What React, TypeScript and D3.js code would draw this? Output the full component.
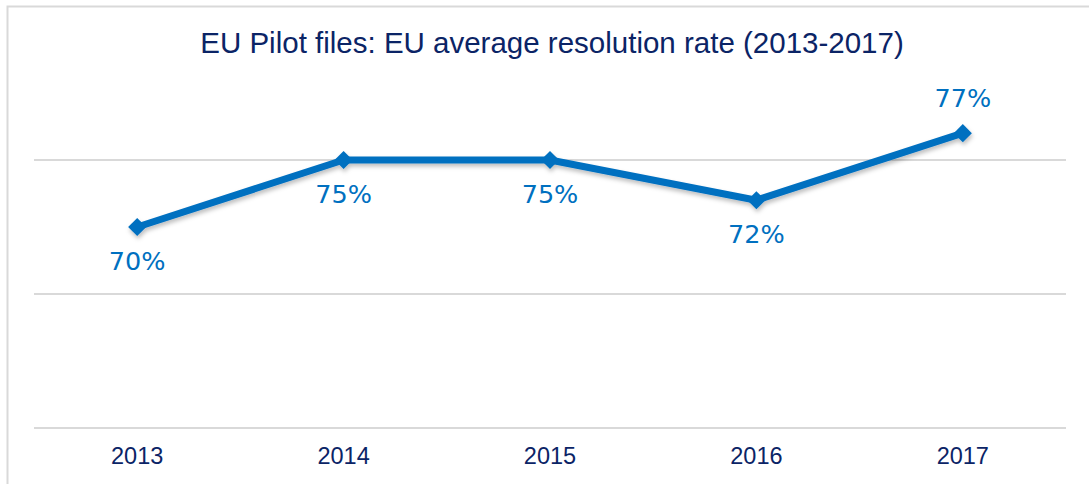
import React from "react";
import * as d3 from "d3";

const years = ["2013", "2014", "2015", "2016", "2017"];
const rates = [70, 75, 75, 72, 77];
const labelPos = ["below", "below", "below", "below", "above"];
const gridValues = [55, 65, 75];
const title = "EU Pilot files: EU average resolution rate (2013-2017)";

const W = 1089;
const H = 484;
const margin = { left: 34, right: 23, top: 24, bottom: 56 };

export default function App() {
  const x = d3
    .scaleBand<string>()
    .domain(years)
    .range([margin.left, W - margin.right]);
  const y = d3.scaleLinear().domain([55, 85]).range([H - margin.bottom, H - margin.bottom - 402]);
  const cx = (d: string) => (x(d) as number) + x.bandwidth() / 2;
  const pts: [number, number][] = years.map((d, i) => [cx(d), y(rates[i])]);
  const line = d3.line()(pts) as string;
  const diamond = d3.symbol().type(d3.symbolDiamond2).size(210)() as string;
  const blue = "#0070c0";
  const navy = "#0b2466";
  return (
    <svg
      width={W}
      height={H}
      style={{ position: "absolute", left: 0, top: 0 }}
    >
      <defs>
        <filter id="sh" x="-10%" y="-20%" width="120%" height="150%">
          <feDropShadow dx="1" dy="3" stdDeviation="2" floodColor="#000" floodOpacity="0.25" />
        </filter>
      </defs>
      <rect x={0} y={0} width={W} height={H} fill="#fff" />
      <path d={`M7.5,${H} V6.5 H${W}`} fill="none" stroke="#d9d9d9" strokeWidth={2} />
      <text
        x={552}
        y={53}
        textAnchor="middle"
        fontFamily="Liberation Sans, Arial, sans-serif"
        fontSize={29.5}
        fill={navy}
      >
        {title}
      </text>
      {gridValues.map((v) => (
        <line
          key={v}
          x1={margin.left}
          x2={W - margin.right}
          y1={y(v)}
          y2={y(v)}
          stroke="#d9d9d9"
          strokeWidth={2}
        />
      ))}
      {years.map((d) => (
        <text
          key={d}
          x={cx(d)}
          y={464}
          textAnchor="middle"
          fontFamily="Liberation Sans, Arial, sans-serif"
          fontSize={23.5}
          fill={navy}
        >
          {d}
        </text>
      ))}
      <g filter="url(#sh)">
        <path d={line} fill="none" stroke={blue} strokeWidth={7} strokeLinejoin="round" />
        {pts.map((p, i) => (
          <path key={i} d={diamond} transform={`translate(${p[0]},${p[1]})`} fill={blue} />
        ))}
      </g>
      {pts.map((p, i) => (
        <text
          key={i}
          x={p[0]}
          y={labelPos[i] === "below" ? p[1] + 43 : p[1] - 26}
          textAnchor="middle"
          fontFamily="DejaVu Sans, sans-serif"
          fontSize={25.5}
          fill={blue}
        >
          {rates[i] + "%"}
        </text>
      ))}
    </svg>
  );
}
